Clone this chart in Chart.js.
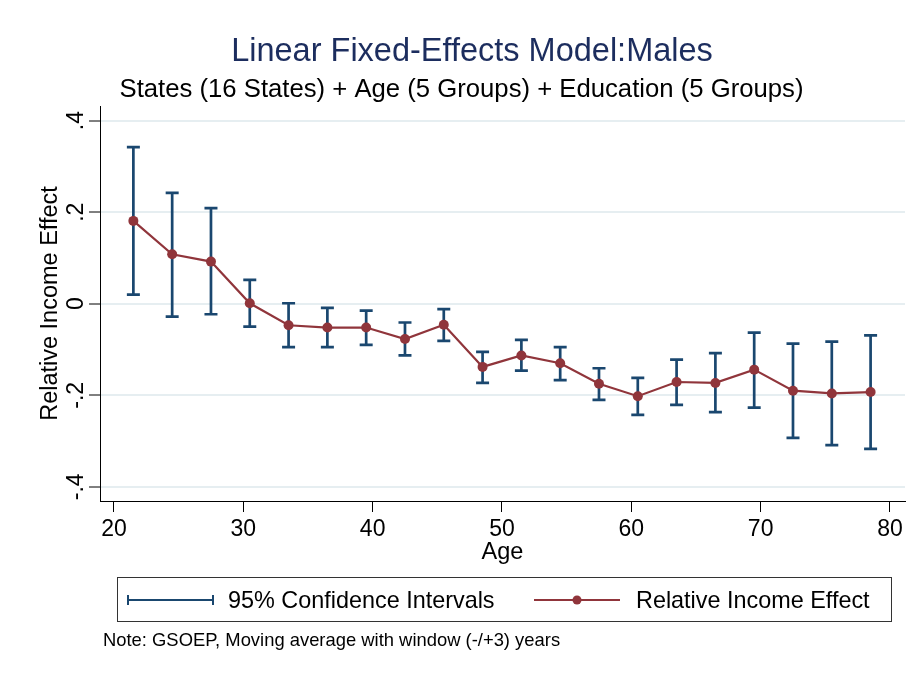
<!DOCTYPE html>
<html>
<head>
<meta charset="utf-8">
<script src="https://cdn.jsdelivr.net/npm/chart.js@4"></script>
<style>
html,body{margin:0;padding:0;background:#fff;}
canvas{display:block;}
</style>
</head>
<body>
<canvas id="c" width="917" height="673"></canvas>
<script>
// ---- data ----
const ages = [21.5, 24.5, 27.5, 30.5, 33.5, 36.5, 39.5, 42.5, 45.5, 48.5, 51.5, 54.5, 57.5, 60.5, 63.5, 66.5, 69.5, 72.5, 75.5, 78.5];
const effect = [0.181, 0.108, 0.092, 0.001, -0.047, -0.052, -0.052, -0.077, -0.046, -0.138, -0.113, -0.130, -0.175, -0.202, -0.171, -0.173, -0.144, -0.190, -0.196, -0.193];
const ciUpper = [0.342, 0.242, 0.209, 0.052, 0.001, -0.009, -0.015, -0.041, -0.012, -0.105, -0.079, -0.095, -0.141, -0.162, -0.122, -0.108, -0.063, -0.087, -0.083, -0.069];
const ciLower = [0.020, -0.028, -0.023, -0.050, -0.095, -0.095, -0.090, -0.113, -0.081, -0.173, -0.146, -0.167, -0.210, -0.243, -0.221, -0.237, -0.227, -0.293, -0.309, -0.317];
const xTicks = [20, 30, 40, 50, 60, 70, 80];
const yTicks = [-0.4, -0.2, 0, 0.2, 0.4];
const yTickLabels = ['-.4', '-.2', '0', '.2', '.4'];
const titleText = 'Linear Fixed-Effects Model:Males';
const subtitleText = 'States (16 States) + Age (5 Groups) + Education (5 Groups)';
const xTitle = 'Age';
const yTitle = 'Relative Income Effect';
const legendLabels = ['95% Confidence Intervals', 'Relative Income Effect'];
const noteText = 'Note: GSOEP, Moving average with window (-/+3) years';

// ---- styles ----
const FONT = '"Liberation Sans", Arial, sans-serif';
const NAVY = '#1a476f';
const MAROON = '#90353b';
const TITLE_COLOR = '#1c2d5e';

const errorBars = {
  id: 'errorBars',
  beforeDatasetsDraw(chart) {
    const ctx = chart.ctx, xs = chart.scales.x, ys = chart.scales.y;
    ctx.save();
    ctx.strokeStyle = NAVY;
    ctx.lineWidth = 2.7;
    ctx.lineCap = 'butt';
    const cap = 6.5;
    for (let i = 0; i < ages.length; i++) {
      const px = xs.getPixelForValue(ages[i]);
      const pu = ys.getPixelForValue(ciUpper[i]);
      const pl = ys.getPixelForValue(ciLower[i]);
      ctx.beginPath();
      ctx.moveTo(px, pu); ctx.lineTo(px, pl);
      ctx.moveTo(px - cap, pu); ctx.lineTo(px + cap, pu);
      ctx.moveTo(px - cap, pl); ctx.lineTo(px + cap, pl);
      ctx.stroke();
    }
    ctx.restore();
  }
};

const decorations = {
  id: 'decorations',
  afterDraw(chart) {
    const ctx = chart.ctx, ys = chart.scales.y, area = chart.chartArea;
    ctx.save();
    // rotated y tick labels
    ctx.fillStyle = '#000';
    ctx.font = '23px ' + FONT;
    ctx.textAlign = 'center';
    ctx.textBaseline = 'alphabetic';
    yTicks.forEach((v, i) => {
      const py = ys.getPixelForValue(v);
      ctx.save();
      ctx.translate(area.left - 17.5, py);
      ctx.rotate(-Math.PI / 2);
      ctx.fillText(yTickLabels[i], 0, 0);
      ctx.restore();
    });
    // y axis title
    ctx.save();
    ctx.font = '23.5px ' + FONT;
    ctx.translate(56.5, (area.top + area.bottom) / 2);
    ctx.rotate(-Math.PI / 2);
    ctx.fillText(yTitle, 0, 0);
    ctx.restore();
    // x axis title
    ctx.font = '23.5px ' + FONT;
    ctx.fillText(xTitle, (area.left + area.right) / 2, 559);
    // title + subtitle
    ctx.fillStyle = TITLE_COLOR;
    ctx.font = '32.5px ' + FONT;
    ctx.fillText(titleText, 472, 61);
    ctx.fillStyle = '#000';
    ctx.font = '25.7px ' + FONT;
    ctx.fillText(subtitleText, 461.5, 97);
    // legend box
    ctx.strokeStyle = '#333';
    ctx.lineWidth = 1;
    ctx.strokeRect(117.5, 577.5, 774, 44);
    // CI symbol
    ctx.strokeStyle = NAVY;
    ctx.lineWidth = 2;
    ctx.beginPath();
    ctx.moveTo(128, 600); ctx.lineTo(213, 600);
    ctx.moveTo(128, 595); ctx.lineTo(128, 605);
    ctx.moveTo(213, 595); ctx.lineTo(213, 605);
    ctx.stroke();
    // line symbol
    ctx.strokeStyle = MAROON;
    ctx.beginPath();
    ctx.moveTo(534, 600); ctx.lineTo(620, 600);
    ctx.stroke();
    ctx.fillStyle = MAROON;
    ctx.beginPath();
    ctx.arc(577, 600, 4.5, 0, Math.PI * 2);
    ctx.fill();
    // legend text
    ctx.fillStyle = '#000';
    ctx.font = '23.4px ' + FONT;
    ctx.textAlign = 'left';
    ctx.fillText(legendLabels[0], 228, 608);
    ctx.fillText(legendLabels[1], 636, 608);
    // note
    ctx.font = '18.4px ' + FONT;
    ctx.fillText(noteText, 103, 646);
    ctx.restore();
  }
};

new Chart(document.getElementById('c'), {
  type: 'line',
  data: {
    datasets: [{
      label: legendLabels[1],
      data: ages.map((a, i) => ({ x: a, y: effect[i] })),
      borderColor: MAROON,
      backgroundColor: MAROON,
      borderWidth: 2.2,
      tension: 0,
      pointRadius: 5,
      pointBorderWidth: 0,
      pointBackgroundColor: MAROON
    }]
  },
  options: {
    responsive: false,
    animation: false,
    layout: { padding: { left: 0, right: 12, top: 106, bottom: 0 } },
    plugins: { legend: { display: false }, tooltip: { enabled: false }, title: { display: false } },
    scales: {
      x: {
        type: 'linear',
        min: 18.92,
        max: 81.16,
        afterBuildTicks: s => { s.ticks = xTicks.map(v => ({ value: v })); },
        afterFit: s => { s.height = 172; },
        grid: { drawOnChartArea: false, drawTicks: true, tickLength: 11, tickColor: '#000', tickWidth: 1 },
        border: { color: '#000', width: 1 },
        ticks: { font: { family: FONT, size: 23 }, color: '#000', padding: 4, maxRotation: 0, autoSkip: false }
      },
      y: {
        type: 'linear',
        min: -0.431,
        max: 0.432,
        afterBuildTicks: s => { s.ticks = yTicks.map(v => ({ value: v })); },
        afterFit: s => { s.width = 100; },
        grid: { color: '#e6eef1', lineWidth: 2, tickColor: '#000', tickLength: 11, tickWidth: 1 },
        border: { color: '#000', width: 1 },
        ticks: { display: false }
      }
    }
  },
  plugins: [errorBars, decorations]
});
</script>
</body>
</html>
